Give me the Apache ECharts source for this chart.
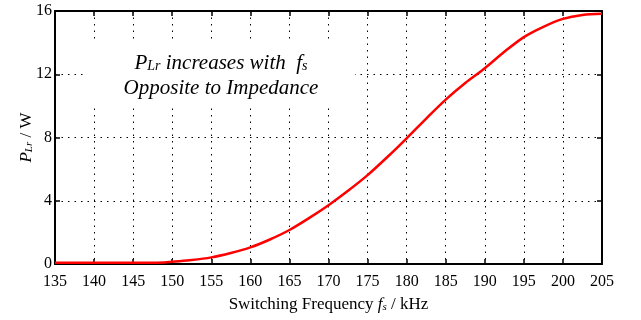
<!DOCTYPE html>
<html>
<head>
<meta charset="utf-8">
<script src="https://cdn.jsdelivr.net/npm/echarts@6/dist/echarts.min.js"></script>
<style>html,body{margin:0;padding:0;background:#fff;}#c{width:641px;height:320px;}</style>
</head>
<body>
<div id="c"></div>
<script>
const freq = [135, 137.5, 140, 142.5, 145, 147.5, 149, 150, 152.5, 155, 157.5, 160, 162.5, 165, 167.5, 170, 172.5, 175, 177.5, 180, 182.5, 185, 187.5, 190, 192.5, 195, 197.5, 200, 202.5, 205];
const power = [0.08, 0.08, 0.08, 0.08, 0.08, 0.08, 0.09, 0.14, 0.25, 0.42, 0.7, 1.05, 1.55, 2.15, 2.9, 3.72, 4.63, 5.62, 6.75, 7.95, 9.2, 10.4, 11.45, 12.38, 13.42, 14.35, 15.0, 15.5, 15.75, 15.82];
const xTicks = [135, 140, 145, 150, 155, 160, 165, 170, 175, 180, 185, 190, 195, 200, 205];
const yTicks = [0, 4, 8, 12, 16];

const FONT = 'Liberation Serif';
const chart = echarts.init(document.getElementById('c'), null, {renderer: 'canvas'});
const axisLine = {show: true, onZero: false, lineStyle: {color: '#000', width: 2}};
const tick = {show: true, inside: true, length: 5, lineStyle: {color: '#000', width: 1.5}};
const grid = {show: true, lineStyle: {color: '#000', width: 1, type: [1.5, 5]}};
chart.setOption({
  animation: false,
  backgroundColor: '#fff',
  grid: {left: 55, right: 39, top: 11, bottom: 56},
  xAxis: [{
    type: 'value', min: xTicks[0], max: xTicks[xTicks.length - 1], interval: 5,
    axisLine, axisTick: tick, splitLine: grid,
    axisLabel: {color: '#000', fontFamily: FONT, fontSize: 16, margin: 10},
    name: '{n|Switching Frequency }{i|f}{s|s}{n| / kHz}',
    nameLocation: 'middle', nameGap: 32, nameMoveOverlap: false,
    nameTextStyle: {
      fontFamily: FONT, fontSize: 17, color: '#000',
      rich: {
        n: {fontFamily: FONT, fontSize: 17, color: '#000'},
        i: {fontFamily: FONT, fontSize: 17, fontStyle: 'italic', color: '#000'},
        s: {fontFamily: FONT, fontSize: 11, fontStyle: 'italic', color: '#000', padding: [0, 0, -5, 0]}
      }
    }
  }, {
    type: 'value', position: 'top', min: xTicks[0], max: xTicks[xTicks.length - 1], interval: 5,
    axisLine, axisTick: tick, splitLine: {show: false}, axisLabel: {show: false}
  }],
  yAxis: [{
    type: 'value', min: yTicks[0], max: yTicks[yTicks.length - 1], interval: 4,
    axisLine, axisTick: tick, splitLine: grid,
    axisLabel: {color: '#000', fontFamily: FONT, fontSize: 16, margin: 3},
    name: '{i|P}{s|Lr}{n| / W}',
    nameLocation: 'middle', nameGap: 20, nameRotate: 90, nameMoveOverlap: false,
    nameTextStyle: {
      fontFamily: FONT, fontSize: 17, color: '#000',
      rich: {
        n: {fontFamily: FONT, fontSize: 17, color: '#000'},
        i: {fontFamily: FONT, fontSize: 17, fontStyle: 'italic', color: '#000'},
        s: {fontFamily: FONT, fontSize: 11, fontStyle: 'italic', color: '#000', padding: [0, 0, -5, 0]}
      }
    }
  }, {
    type: 'value', position: 'right', min: yTicks[0], max: yTicks[yTicks.length - 1], interval: 4,
    axisLine, axisTick: tick, splitLine: {show: false}, axisLabel: {show: false}
  }],
  series: [{
    type: 'line',
    data: freq.map((f, i) => [f, power[i]]),
    smooth: 0.3,
    showSymbol: false,
    lineStyle: {color: '#ff0000', width: 2.5},
    z: 5
  }],
  graphic: [
    {type: 'rect', z: 50, shape: {x: 83, y: 40, width: 272, height: 67}, style: {fill: '#fff'}},
    {type: 'text', z: 51, x: 221, y: 63,
      style: {
        text: '{i|P}{s|Lr}{i| increases with  f}{s|s}',
        align: 'center', verticalAlign: 'middle',
        rich: {
          i: {fontFamily: FONT, fontSize: 21, fontStyle: 'italic', fill: '#000'},
          s: {fontFamily: FONT, fontSize: 14, fontStyle: 'italic', fill: '#000', padding: [0, 0, -6, 0]}
        }
      }
    },
    {type: 'text', z: 51, x: 221, y: 88,
      style: {
        text: 'Opposite to Impedance',
        align: 'center', verticalAlign: 'middle',
        fontFamily: FONT, fontSize: 21, fontStyle: 'italic', fill: '#000'
      }
    }
  ]
});
</script>
</body>
</html>
